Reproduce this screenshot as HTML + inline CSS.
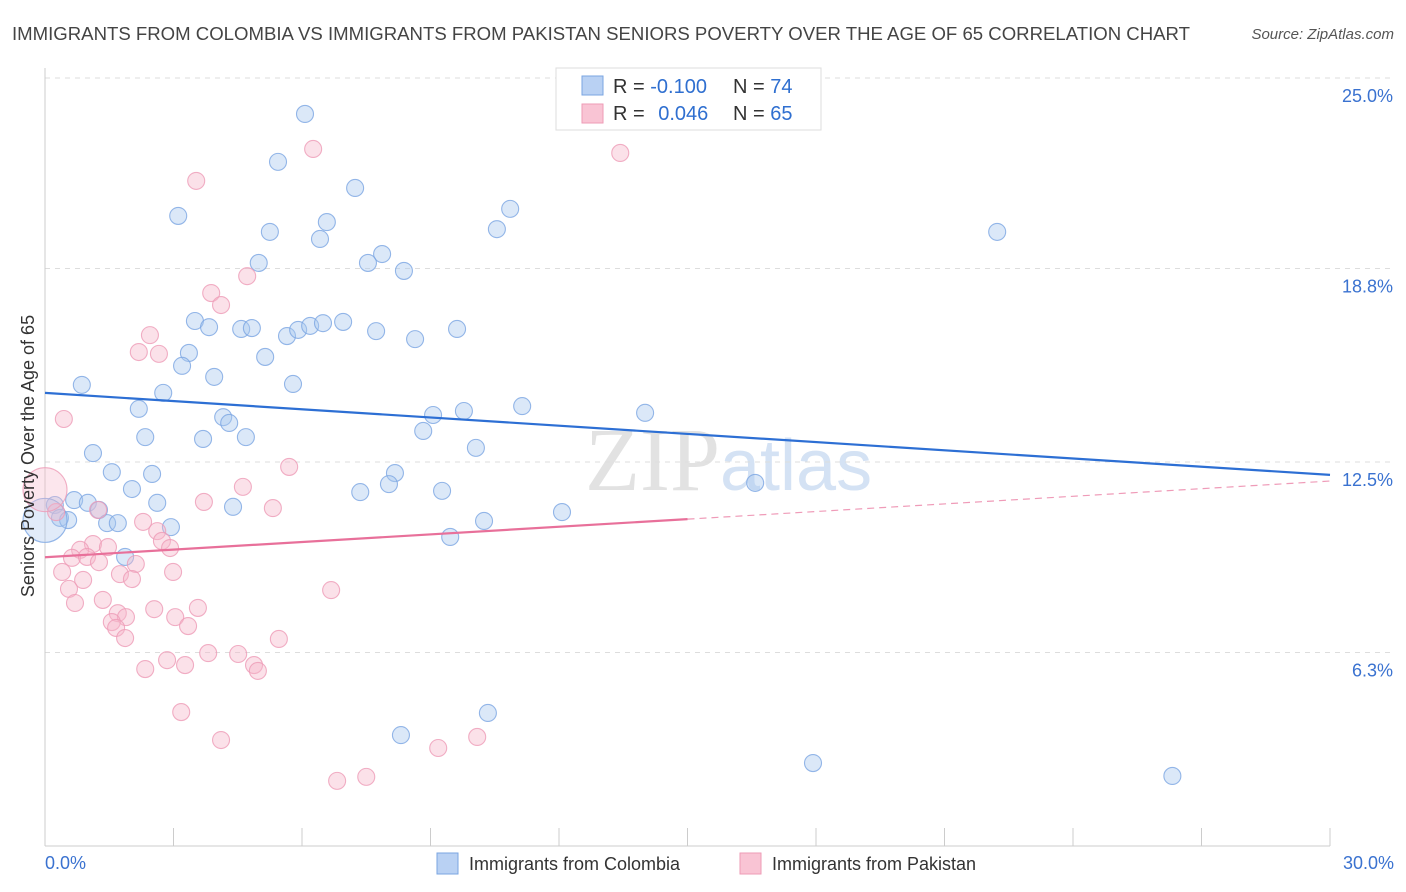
<!DOCTYPE html>
<html><head><meta charset="utf-8"><style>
body{margin:0;background:#fff;font-family:"Liberation Sans",sans-serif}
svg{display:block}
</style></head><body>
<svg id="chart" width="1406" height="892">
<text x="12" y="40" font-size="18" fill="#444" textLength="1178" lengthAdjust="spacingAndGlyphs">IMMIGRANTS FROM COLOMBIA VS IMMIGRANTS FROM PAKISTAN SENIORS POVERTY OVER THE AGE OF 65 CORRELATION CHART</text>
<text x="1394" y="39" font-size="15" fill="#555" font-style="italic" text-anchor="end">Source: ZipAtlas.com</text>
<text x="720" y="490" font-size="90" fill="#e2e2e2" text-anchor="end" font-family="Liberation Serif">ZIP</text>
<text x="720" y="490" font-size="72" fill="#d4e2f4">atlas</text>
<g id="grid"></g><g id="pts"></g><g id="lines"></g>
<text transform="translate(34,456) rotate(-90)" font-size="18" fill="#333" text-anchor="middle">Seniors Poverty Over the Age of 65</text>
<text x="45" y="869" font-size="18" fill="#3a72d0">0.0%</text>
<text x="1394" y="869" font-size="18" fill="#3a72d0" text-anchor="end">30.0%</text>
<g>
<rect x="556" y="68" width="265" height="62" fill="#fff" stroke="#ddd"/>
<rect x="582" y="76" width="21" height="19" fill="#b9d1f3" stroke="#7aa5e2"/>
<rect x="582" y="104" width="21" height="19" fill="#f9c4d4" stroke="#ee9bb6"/>
<text x="613" y="93" font-size="20" fill="#333">R = <tspan fill="#2f6fd0">-0.100</tspan></text>
<text x="733" y="93" font-size="20" fill="#333">N = <tspan fill="#2f6fd0">74</tspan></text>
<text x="613" y="120" font-size="20" fill="#333">R = <tspan fill="#2f6fd0" dx="8">0.046</tspan></text>
<text x="733" y="120" font-size="20" fill="#333">N = <tspan fill="#2f6fd0">65</tspan></text>
</g>
<g>
<rect x="437" y="853" width="21" height="21" fill="#b9d1f3" stroke="#7aa5e2"/>
<text x="469" y="870" font-size="18" fill="#333">Immigrants from Colombia</text>
<rect x="740" y="853" width="21" height="21" fill="#f9c4d4" stroke="#ee9bb6"/>
<text x="772" y="870" font-size="18" fill="#333">Immigrants from Pakistan</text>
</g>
</svg>
<script>
const yTicks=[25.0,18.8,12.5,6.3];
const yTickLabels=["25.0%","18.8%","12.5%","6.3%"];
const xTicks=[0,3,6,9,12,15,18,21,24,27,30];
const colombiaX=[6.07,5.44,7.24,3.11,10.86,6.58,5.25,6.42,10.55,22.23,7.87,4.99,7.54,8.38,3.50,3.83,4.58,4.83,5.65,5.91,6.19,6.49,6.96,7.73,8.64,9.62,3.36,5.14,3.20,3.95,0.86,5.79,2.76,2.19,4.16,4.30,9.06,9.78,11.14,14.01,8.83,2.34,3.69,4.69,10.06,1.12,1.56,2.50,8.17,2.03,8.03,7.36,9.27,16.58,0.68,1.00,2.62,1.26,4.39,12.07,0.23,0.35,0.54,1.45,1.70,2.94,10.25,9.46,1.87,10.34,8.31,17.93,26.32,0.0];
const colombiaY=[23.83,22.27,21.42,20.51,20.74,20.31,19.99,19.76,20.08,19.99,19.27,18.98,18.98,18.72,17.09,16.89,16.83,16.86,16.60,16.80,16.93,17.02,17.06,16.76,16.50,16.83,16.05,15.92,15.63,15.27,15.01,15.04,14.75,14.23,13.96,13.77,14.03,14.16,14.32,14.10,13.51,13.31,13.25,13.31,12.96,12.79,12.17,12.11,12.14,11.62,11.78,11.52,11.56,11.82,11.26,11.17,11.17,10.94,11.04,10.87,11.10,10.68,10.61,10.51,10.51,10.38,10.58,10.06,9.41,4.33,3.61,2.70,2.28,10.6];
const pakistanX=[6.26,13.43,3.53,4.72,3.88,4.11,2.45,2.19,2.66,0.44,5.70,4.62,3.71,5.32,1.24,0.26,2.29,2.62,2.73,2.92,1.12,1.47,0.82,0.63,0.98,1.26,2.12,0.40,1.75,2.03,2.99,0.89,0.56,6.68,1.35,0.70,2.55,3.57,1.70,1.89,3.04,1.56,3.34,1.66,1.87,5.46,3.81,4.51,2.85,3.27,2.34,4.88,4.97,3.18,4.11,9.18,10.09,7.50,6.82,0.0];
const pakistanY=[22.69,22.56,21.65,18.55,18.00,17.61,16.63,16.08,16.02,13.90,12.34,11.69,11.20,11.00,10.94,10.87,10.55,10.25,9.93,9.70,9.83,9.73,9.64,9.38,9.41,9.24,9.18,8.92,8.85,8.69,8.92,8.66,8.37,8.33,8.01,7.91,7.71,7.75,7.58,7.45,7.45,7.29,7.16,7.10,6.77,6.74,6.28,6.25,6.05,5.89,5.76,5.89,5.70,4.36,3.45,3.19,3.55,2.25,2.12,11.6];
const colombiaTrend=[14.75,12.08];
const pakistanTrend=[9.4,11.88];
const NS='http://www.w3.org/2000/svg';
const X0=45,X1=1330,Y0=846,PPU=30.72;
const xs=v=>X0+(v/30)*(X1-X0);
const ys=v=>Y0-v*PPU;
function mk(t,a,p){const e=document.createElementNS(NS,t);for(const k in a)e.setAttribute(k,a[k]);p.appendChild(e);return e;}
const grid=document.getElementById('grid');
yTicks.forEach((v,i)=>{
 const l=mk('line',{x1:45,x2:1395,y1:ys(v),y2:ys(v),stroke:'#ddd','stroke-dasharray':'5,5'},grid);
 
 
 const t=mk('text',{x:1393,y:ys(v)+24,'font-size':18,fill:'#3a72d0','text-anchor':'end'},grid);
 t.textContent=yTickLabels[i];
 
 
});
const ax=mk('line',{x1:45,x2:45,y1:68,y2:846,stroke:'#ccc'},grid);


const bx=mk('line',{x1:45,x2:1330,y1:846,y2:846,stroke:'#ccc'},grid);


xTicks.forEach(v=>{
 const t=mk('line',{x1:xs(v),x2:xs(v),y1:828,y2:846,stroke:'#ccc'},grid);
 
 
});
const pts=document.getElementById('pts');
function drawPts(X,Y,fill,stroke,name){
 X.forEach((x,i)=>{
  const big=i===X.length-1;
  const c=mk('circle',{cx:xs(x),cy:ys(Y[i]),r:big?22:8.5,fill:fill,'fill-opacity':big?0.35:0.42,stroke:stroke,'stroke-opacity':0.8,'stroke-width':1.1},pts);
  
  
 });
}
drawPts(colombiaX,colombiaY,'#a9c7ef','#7aa5e2','colombia-point');
drawPts(pakistanX,pakistanY,'#f5b7cb','#ee9bb6','pakistan-point');
const lines=document.getElementById('lines');
const bl=mk('line',{x1:xs(0),y1:ys(colombiaTrend[0]),x2:xs(30),y2:ys(colombiaTrend[1]),stroke:'#2d6fd4','stroke-width':2.2},lines);


const pm=pakistanTrend[0]+(pakistanTrend[1]-pakistanTrend[0])*0.5;
const pl=mk('line',{x1:xs(0),y1:ys(pakistanTrend[0]),x2:xs(15),y2:ys(pm),stroke:'#e8709a','stroke-width':2.2},lines);


const pd=mk('line',{x1:xs(15),y1:ys(pm),x2:xs(30),y2:ys(pakistanTrend[1]),stroke:'#e8709a','stroke-width':1.2,'stroke-dasharray':'7,5','stroke-opacity':0.7},lines);


</script>
</body></html>
